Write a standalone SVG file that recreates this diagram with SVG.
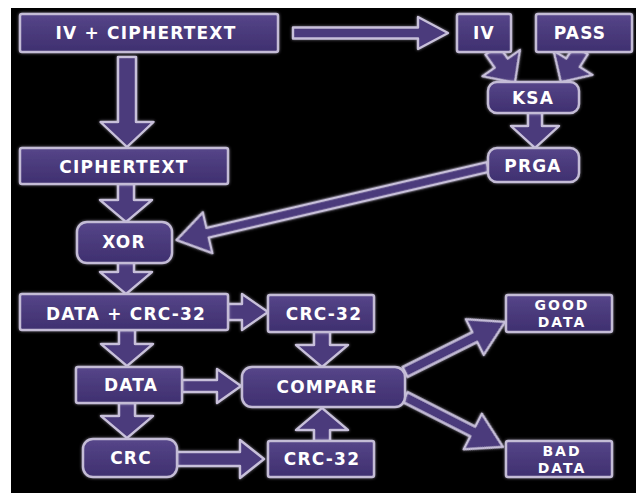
<svg xmlns="http://www.w3.org/2000/svg" width="636" height="493" viewBox="0 0 636 493">
<defs>
<linearGradient id="gBox" x1="0" y1="0" x2="0" y2="1">
<stop offset="0" stop-color="#56468a"/>
<stop offset="0.5" stop-color="#4a3a7b"/>
<stop offset="1" stop-color="#3f3070"/>
</linearGradient>
<filter id="glow" x="-20%" y="-40%" width="140%" height="180%">
<feGaussianBlur in="SourceAlpha" stdDeviation="1.5" result="b"/>
<feFlood flood-color="#d8d0ea" flood-opacity="0.55"/>
<feComposite in2="b" operator="in" result="g"/>
<feMerge><feMergeNode in="g"/><feMergeNode in="SourceGraphic"/></feMerge>
</filter>
<style>
.box{fill:url(#gBox);stroke:#c4bcd6;stroke-width:2.5;filter:url(#glow)}
.arr{fill:#4b3b7c;stroke:#c8c0da;stroke-width:2.4;stroke-linejoin:round;filter:url(#glow)}
.t{font-family:"DejaVu Sans",Verdana,sans-serif;font-weight:bold;font-size:17px;fill:#ffffff;text-anchor:middle;letter-spacing:1.2px}
.s{font-size:14px;letter-spacing:2px}
</style>
</defs>
<rect x="0" y="0" width="636" height="493" fill="#ffffff"/>
<rect x="11" y="8" width="625" height="485" fill="#000000"/>

<g id="connectors">
<path class="arr" transform="translate(293,33)" d="M0,-5.5H125V-16L155,0L125,16V5.5H0Z"/>
<path class="arr" transform="translate(127,57) rotate(90)" d="M0,-9H65V-26.5L90,0L65,26.5V9H0Z"/>
<path class="arr" transform="translate(492,50) rotate(55)" d="M0,-8H16V-23L40,0L16,23V8H0Z"/>
<path class="arr" transform="translate(581,50) rotate(122)" d="M0,-8H15V-23L38,0L15,23V8H0Z"/>
<path class="arr" transform="translate(535,112) rotate(90)" d="M0,-7H14V-24L36,0L14,24V7H0Z"/>
<path class="arr" transform="translate(488,167) rotate(166.8)" d="M0,-5H288V-21L320,0L288,21V5H0Z"/>
<path class="arr" transform="translate(126,184) rotate(90)" d="M0,-8H16V-26L38,0L16,26V8H0Z"/>
<path class="arr" transform="translate(126,262) rotate(90)" d="M0,-8H10V-26L32,0L10,26V8H0Z"/>
<path class="arr" transform="translate(228,312)" d="M0,-8H14V-18L40,0L14,18V8H0Z"/>
<path class="arr" transform="translate(322,331) rotate(90)" d="M0,-8H14V-26L36,0L14,26V8H0Z"/>
<path class="arr" transform="translate(127,330) rotate(90)" d="M0,-8H14V-26L36,0L14,26V8H0Z"/>
<path class="arr" transform="translate(182,386)" d="M0,-6H35V-17L59,0L35,17V6H0Z"/>
<path class="arr" transform="translate(127,403) rotate(90)" d="M0,-8H13V-26L35,0L13,26V8H0Z"/>
<path class="arr" transform="translate(177,459)" d="M0,-7H63V-19L87,0L63,19V7H0Z"/>
<path class="arr" transform="translate(322,441) rotate(-90)" d="M0,-8H11V-26L33,0L11,26V8H0Z"/>
<path class="arr" transform="translate(405,372) rotate(-26.6)" d="M0,-5.5H78V-20L112,0L78,20V5.5H0Z"/>
<path class="arr" transform="translate(405,397) rotate(27)" d="M0,-5.5H76V-20L110,0L76,20V5.5H0Z"/>
</g>

<g id="n-ivct"><rect class="box" x="20" y="14" width="258" height="38" rx="2"/><text class="t" x="146" y="39">IV + CIPHERTEXT</text></g>
<g id="n-iv"><rect class="box" x="457" y="14" width="54" height="38" rx="2"/><text class="t" x="484" y="39">IV</text></g>
<g id="n-pass"><rect class="box" x="536" y="14" width="96" height="38" rx="2"/><text class="t" x="580" y="39">PASS</text></g>
<g id="n-ksa"><rect class="box" x="488" y="82" width="91" height="31" rx="9"/><text class="t" x="533" y="104">KSA</text></g>
<g id="n-prga"><rect class="box" x="488" y="148" width="91" height="34" rx="9"/><text class="t" x="533" y="172">PRGA</text></g>
<g id="n-ciphertext"><rect class="box" x="20" y="148" width="208" height="36" rx="2"/><text class="t" x="124" y="173">CIPHERTEXT</text></g>
<g id="n-xor"><rect class="box" x="77" y="222" width="95" height="41" rx="10"/><text class="t" x="124" y="248">XOR</text></g>
<g id="n-datacrc"><rect class="box" x="20" y="294" width="208" height="36" rx="2"/><text class="t" x="126" y="320">DATA + CRC-32</text></g>
<g id="n-crc32a"><rect class="box" x="268" y="295" width="106" height="37" rx="2"/><text class="t" x="324" y="320">CRC-32</text></g>
<g id="n-good"><rect class="box" x="506" y="295" width="106" height="37" rx="2"/><text class="t s" x="562" y="310">GOOD</text><text class="t s" x="562" y="327">DATA</text></g>
<g id="n-data"><rect class="box" x="76" y="367" width="106" height="36" rx="2"/><text class="t" x="131" y="391">DATA</text></g>
<g id="n-compare"><rect class="box" x="242" y="367" width="163" height="40" rx="10"/><text class="t" x="327" y="393">COMPARE</text></g>
<g id="n-crc"><rect class="box" x="83" y="439" width="94" height="38" rx="10"/><text class="t" x="131" y="464">CRC</text></g>
<g id="n-crc32b"><rect class="box" x="268" y="441" width="106" height="36" rx="2"/><text class="t" x="322" y="465">CRC-32</text></g>
<g id="n-bad"><rect class="box" x="506" y="441" width="106" height="36" rx="2"/><text class="t s" x="562" y="456">BAD</text><text class="t s" x="562" y="473">DATA</text></g>
</svg>
